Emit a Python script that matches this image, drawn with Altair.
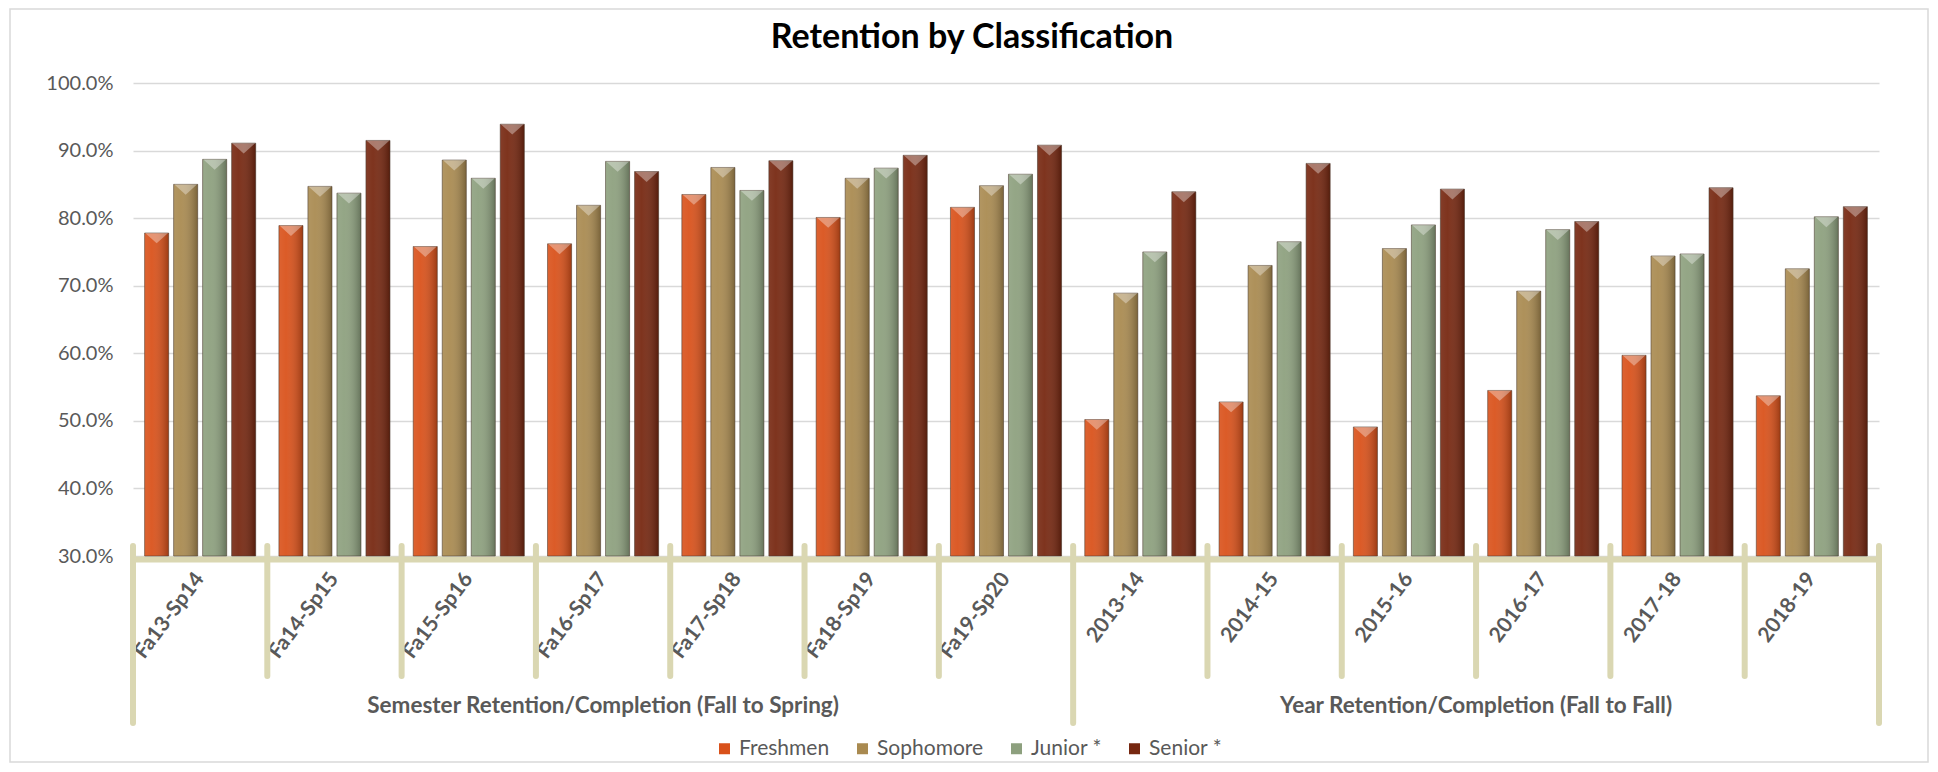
import altair as alt
import pandas as pd

title_text = "Retention by Classification"
categories = ["Fa13-Sp14", "Fa14-Sp15", "Fa15-Sp16", "Fa16-Sp17", "Fa17-Sp18", "Fa18-Sp19",
              "Fa19-Sp20", "2013-14", "2014-15", "2015-16", "2016-17", "2017-18", "2018-19"]
series = ["Freshmen", "Sophomore", "Junior *", "Senior *"]
freshmen = [77.8, 78.9, 75.8, 76.2, 83.5, 80.1, 81.6, 50.2, 52.8, 49.1, 54.5, 59.7, 53.7]
sophomore = [85.0, 84.7, 88.6, 81.9, 87.5, 85.9, 84.8, 68.9, 73.0, 75.5, 69.2, 74.4, 72.5]
junior = [88.7, 83.7, 85.9, 88.4, 84.1, 87.4, 86.5, 75.0, 76.5, 79.0, 78.3, 74.7, 80.2]
senior = [91.1, 91.5, 93.9, 86.9, 88.5, 89.3, 90.8, 83.9, 88.1, 84.3, 79.5, 84.5, 81.7]
groups = ["Semester Retention/Completion (Fall to Spring)", "Year Retention/Completion (Fall to Fall)"]
group_sizes = [7, 6]
colors = ["#D9511A", "#A98A50", "#8DA07E", "#762710"]

rows = []
for s, vals in zip(series, [freshmen, sophomore, junior, senior]):
    for c, v in zip(categories, vals):
        rows.append({"cat": c, "series": s, "value": v})
df = pd.DataFrame(rows)

# group boundaries / centres in category-index units
bounds = [0]
for n in group_sizes:
    bounds.append(bounds[-1] + n)
outer_df = pd.DataFrame({"pos": bounds})
inner_df = pd.DataFrame({"pos": [i for i in range(1, len(categories)) if i not in bounds]})
glab_df = pd.DataFrame({"name": groups,
                        "pos": [(bounds[i] + bounds[i + 1]) / 2 for i in range(len(groups))]})

W, H = 1746, 473
TAN = "#DAD7B2"
GRAY = "#595959"
FONT = "Lato"

xband = alt.X("cat:N", sort=categories, scale=alt.Scale(paddingInner=0, paddingOuter=0),
              axis=alt.Axis(title=None, labelAngle=-53, labelAlign="right", labelBaseline="middle",
                            labelFont=FONT, labelFontWeight="bold", labelFontSize=21,
                            labelColor=GRAY, labelPadding=16, ticks=False,
                            domainColor=TAN, domainWidth=6, offset=3, grid=False))
xoff = alt.XOffset("series:N", sort=series, scale=alt.Scale(paddingInner=0.17, paddingOuter=0.4))
yv = alt.Y("value:Q", scale=alt.Scale(domain=[30, 100], nice=False, zero=False),
           axis=alt.Axis(title=None, values=[30, 40, 50, 60, 70, 80, 90, 100],
                         labelExpr="format(datum.value, '.1f') + '%'",
                         labelFont=FONT, labelFontSize=20, labelColor=GRAY, labelPadding=20,
                         ticks=False, domain=False, gridColor="#D9D9D9", gridWidth=1.5))

bars = alt.Chart(df).mark_bar().encode(
    x=xband, xOffset=xoff, y=yv, y2=alt.datum(30),
    color=alt.Color("series:N", sort=series, scale=alt.Scale(domain=series, range=colors),
                    legend=alt.Legend(title=None, orient="none", direction="horizontal",
                                      legendX=581, legendY=655, symbolType="square",
                                      symbolSize=121, labelFont=FONT, labelFontSize=21,
                                      labelColor=GRAY, columnPadding=22, labelOffset=4,
                                      symbolStrokeWidth=0)),
)

shade = alt.Chart(df).mark_bar(
    color=alt.LinearGradient(gradient="linear", x1=0, x2=1, y1=0, y2=0, stops=[
        alt.GradientStop(color="rgba(255,255,255,0.10)", offset=0),
        alt.GradientStop(color="rgba(255,255,255,0.06)", offset=0.3),
        alt.GradientStop(color="rgba(0,0,0,0.28)", offset=1)]),
    stroke="#4a3a30", strokeOpacity=0.55, strokeWidth=1
).encode(x=xband, xOffset=xoff, y=yv, y2=alt.datum(30))

bevel = alt.Chart(df).mark_point(
    shape="M-1,0 L1,0 L0,0.9 Z", filled=True, color="white", opacity=0.35, size=530
).encode(x=xband, xOffset=xoff, y=yv)

core = alt.layer(bars, shade, bevel)

xq = alt.X("pos:Q", scale=alt.Scale(domain=[0, len(categories)], nice=False, zero=False), axis=None)

inner_rules = alt.Chart(inner_df).mark_rule(color=TAN, strokeWidth=6, strokeCap="round").encode(
    x=xq, y=alt.value(H - 10), y2=alt.value(H + 120))
outer_rules = alt.Chart(outer_df).mark_rule(color=TAN, strokeWidth=6, strokeCap="round").encode(
    x=xq, y=alt.value(H - 10), y2=alt.value(H + 167))
glabels = alt.Chart(glab_df).mark_text(font=FONT, fontSize=22.5, fontWeight="bold", color=GRAY,
                                       baseline="middle").encode(
    x=xq, y=alt.value(H + 150), text="name:N")

title = alt.Chart(pd.DataFrame({"t": [title_text]})).mark_text(
    font=FONT, fontSize=34, fontWeight="bold", color="black", align="center",
    baseline="alphabetic").encode(x=alt.value(839), y=alt.value(-35), text="t:N")

border = alt.Chart(pd.DataFrame({"k": [0]})).mark_rect(
    fill=None, stroke="#D9D9D9", strokeWidth=1.5).encode(
    x=alt.value(-123), x2=alt.value(W + 49), y=alt.value(-74), y2=alt.value(H + 206))

chart = alt.layer(border, title, core, inner_rules, outer_rules, glabels).resolve_scale(
    x="independent").properties(
    width=W, height=H,
    autosize=alt.AutoSizeParams(type="none"),
    padding={"left": 125, "top": 75, "right": 51, "bottom": 208},
).configure_view(stroke=None)

chart.save("out.html", embed_options={"renderer": "svg", "actions": False})
